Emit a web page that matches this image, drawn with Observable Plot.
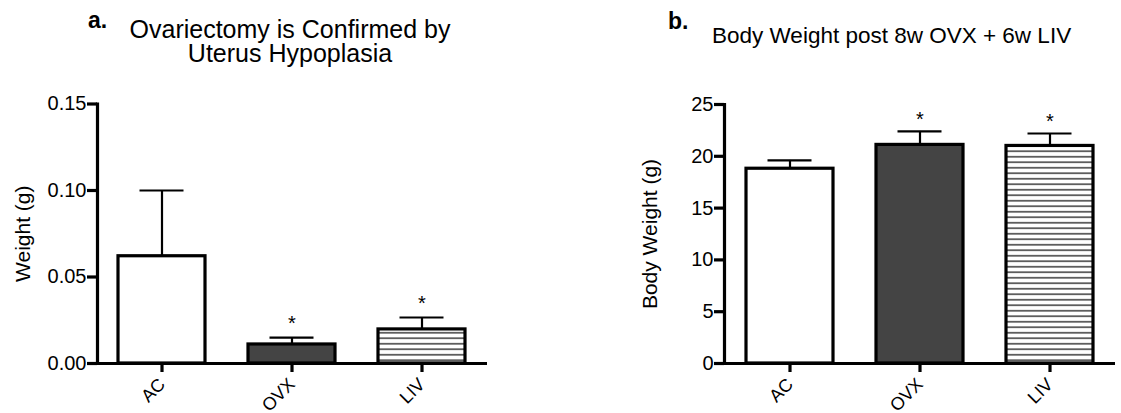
<!DOCTYPE html>
<html>
<head>
<meta charset="utf-8">
<script src="https://cdn.jsdelivr.net/npm/d3@7"></script>
<script src="https://cdn.jsdelivr.net/npm/@observablehq/plot@0.6"></script>
<style>
  html, body { margin: 0; padding: 0; background: #fff; }
  #wrap { position: relative; width: 1121px; height: 413px; overflow: hidden; font-family: "Liberation Sans", Arial, sans-serif; color: #000; }
  .abs { position: absolute; white-space: nowrap; }
  svg { position: absolute; top: 0; }
  g[aria-label$="axis tick"], g[aria-label$="axis tick"] path { stroke-width: 3.2px !important; }
</style>
</head>
<body>
<div id="wrap">
  <div class="abs" style="left:88px; top:9px; font-size:23px; line-height:23px; font-weight:bold;">a.</div>
  <div class="abs" style="left:0; width:580px; top:18px; font-size:25px; line-height:22px; text-align:center;">Ovariectomy is Confirmed by</div>
  <div class="abs" style="left:0; width:580px; top:42px; font-size:25px; line-height:22px; text-align:center;">Uterus Hypoplasia</div>
  <div class="abs" style="left:668px; top:10px; font-size:23px; line-height:23px; font-weight:bold;">b.</div>
  <div class="abs" style="left:712px; top:25px; font-size:22.5px; line-height:22.5px;">Body Weight post 8w OVX + 6w LIV</div>
</div>
<script>
// ---- data ----
const groups = ["AC", "OVX", "LIV"];
const uterusMean = [0.062, 0.011, 0.0197];
const uterusSem = [0.038, 0.004, 0.0069];
const uterusSig = ["", "*", "*"];
const uterusTicks = [0, 0.05, 0.10, 0.15];
const bodyMean = [18.8, 21.1, 21.0];
const bodySem = [0.8, 1.3, 1.2];
const bodySig = ["", "*", "*"];
const bodyTicks = [0, 5, 10, 15, 20, 25];

// ---- styles ----
const fillFor = {AC: "#ffffff", OVX: "#444444", LIV: "url(#hatch)"};

function makePanel({mean, sem, sig, ticks, domain, fmt, label, width, marginLeft, marginRight, marginTop, starDy}) {
  const data = groups.map((g, i) => ({group: g, mean: mean[i], err: sem[i], sig: sig[i]}));
  const svg = Plot.plot({
    width, height: 413,
    marginLeft, marginRight, marginTop, marginBottom: 50,
    style: {fontFamily: "'Liberation Sans', Arial, sans-serif", fontSize: "20px", color: "#000", background: "transparent", overflow: "visible"},
    x: {domain: groups, paddingInner: 0.33, paddingOuter: 0.16, label: null},
    y: {domain, label: null},
    color: {type: "identity"},
    marks: [
      Plot.barY(data, {x: "group", y: "mean", fill: d => fillFor[d.group], stroke: "#000", strokeWidth: 3.2}),
      Plot.ruleX(data, {x: "group", y1: "mean", y2: d => d.mean + d.err, stroke: "#000", strokeWidth: 2.2}),
      Plot.tickY(data, {x: "group", y: d => d.mean + d.err, stroke: "#000", strokeWidth: 2.2, insetLeft: 21.5, insetRight: 21.5}),
      Plot.text(data, {x: "group", y: d => d.mean + d.err, text: "sig", dy: starDy, fontSize: 20}),
      Plot.axisY({ticks, tickFormat: fmt, tickSize: 10, tickPadding: 1, strokeWidth: 3.2, label: null, fontSize: 20}),
      Plot.axisX({tickRotate: -45, tickSize: 9, tickPadding: 9, strokeWidth: 3.2, label: null, fontSize: 18}),
      Plot.frame({anchor: "left", strokeWidth: 3.2}),
      Plot.ruleY([0], {strokeWidth: 3.2}),
      Plot.text([label], {frameAnchor: "left", dx: -74, rotate: -90, textAnchor: "middle", lineAnchor: "middle", text: d => d, fontSize: 21})
    ]
  });
  d3.select(svg).selectAll('g[aria-label$="axis tick"], g[aria-label$="axis tick"] path').attr("stroke-width", 3.2);
  const ns = "http://www.w3.org/2000/svg";
  const defs = document.createElementNS(ns, "defs");
  defs.innerHTML = '<pattern id="hatch" patternUnits="userSpaceOnUse" width="10" height="5.5">' +
    '<rect width="10" height="5.5" fill="#fff"/>' +
    '<line x1="0" x2="10" y1="2.75" y2="2.75" stroke="#3a3a3a" stroke-width="1.5"/></pattern>';
  svg.insertBefore(defs, svg.firstChild);
  return svg;
}

const left = makePanel({
  mean: uterusMean, sem: uterusSem, sig: uterusSig, ticks: uterusTicks, domain: [0, 0.15],
  fmt: d3.format(".2f"), label: "Weight (g)", width: 560, marginLeft: 97, marginRight: 73, marginTop: 103.5, starDy: -14
});
left.style.left = "0px";

const right = makePanel({
  mean: bodyMean, sem: bodySem, sig: bodySig, ticks: bodyTicks, domain: [0, 25],
  fmt: d3.format("d"), label: "Body Weight (g)", width: 561, marginLeft: 164, marginRight: 6, marginTop: 104, starDy: -12
});
right.style.left = "560px";

document.getElementById("wrap").appendChild(left);
document.getElementById("wrap").appendChild(right);
</script>
</body>
</html>
